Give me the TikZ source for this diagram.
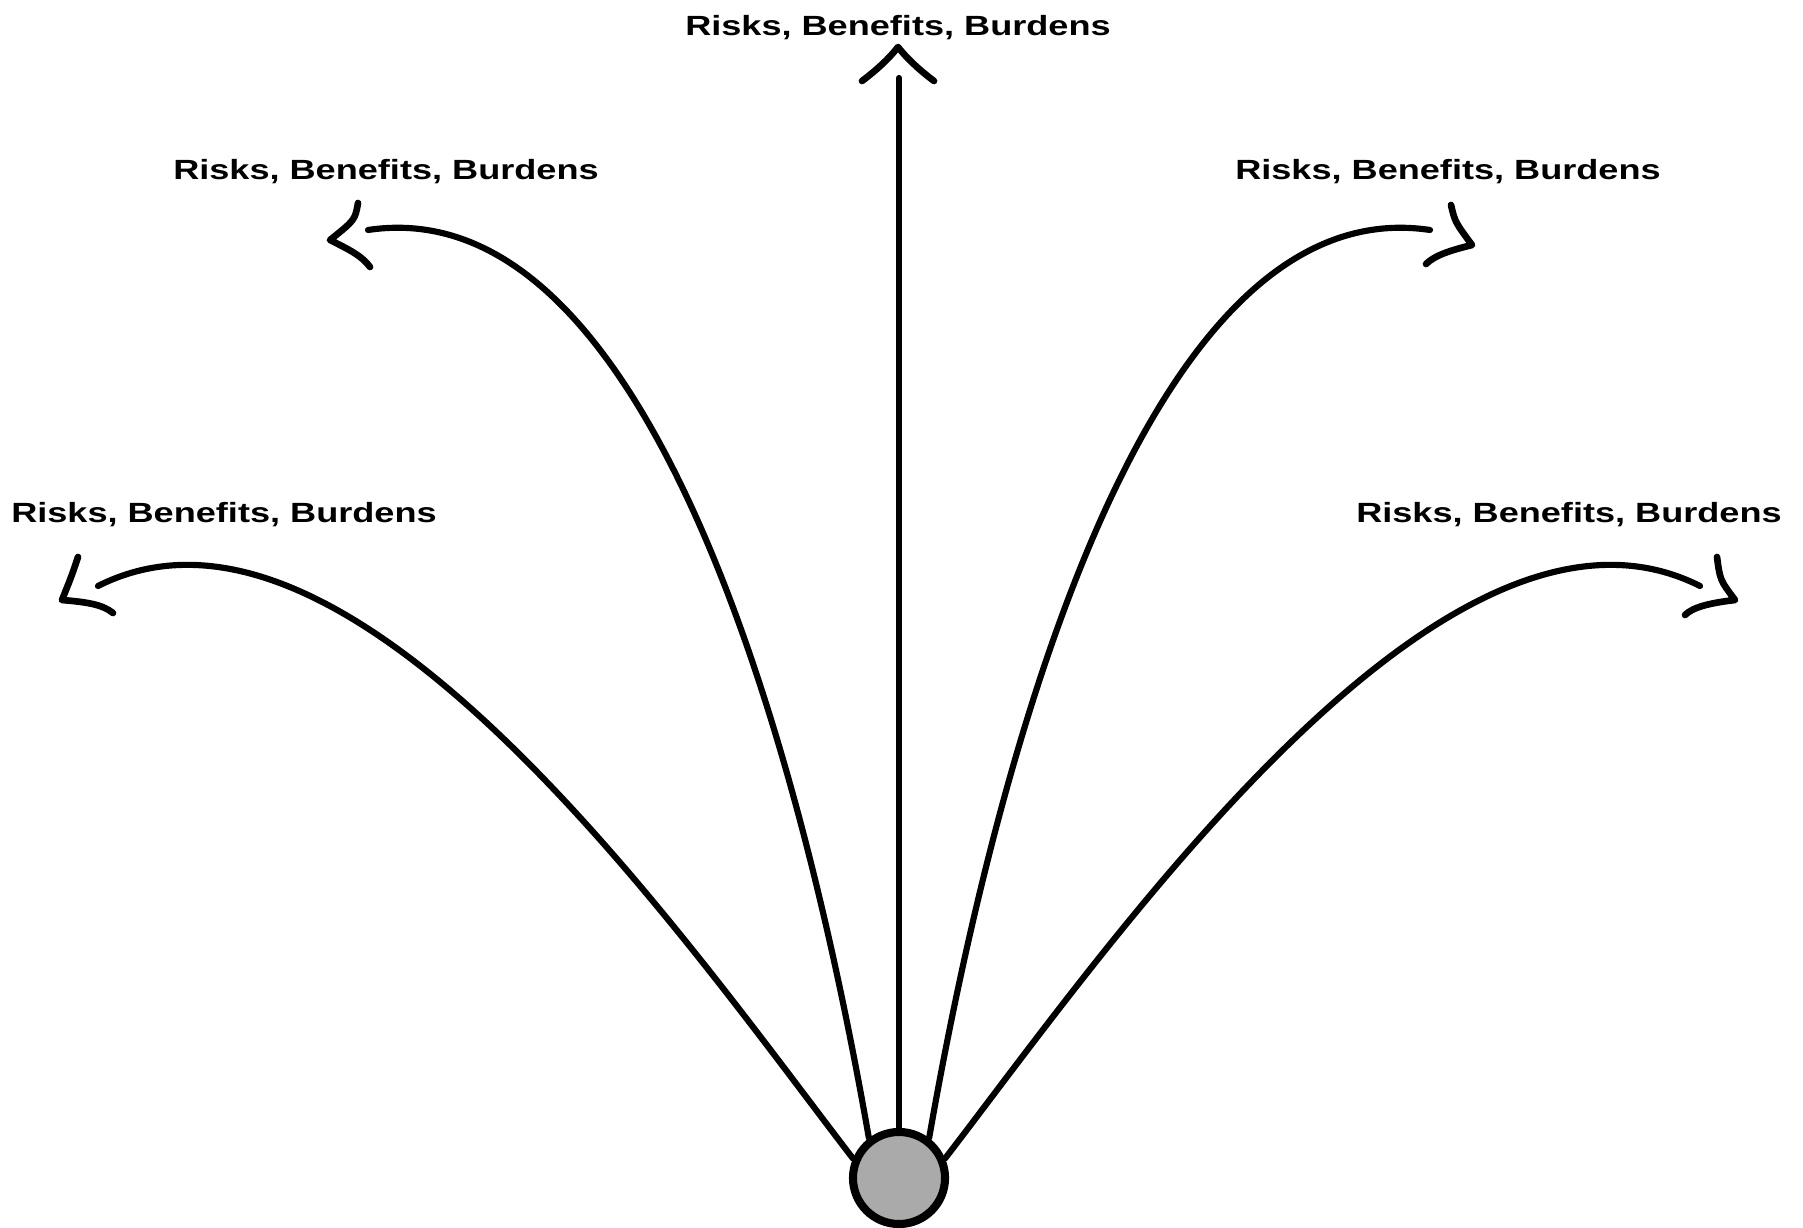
\documentclass[tikz,border=0pt]{standalone}
\usepackage{fontspec}
\setmainfont{Liberation Sans}
\usepackage{graphicx}
\definecolor{ballgray}{RGB}{170,170,170}
\tikzset{
  curve/.style={line width=1.75pt, line cap=round, black},
  chev/.style={line width=1.9pt, line cap=round, line join=round, black},
  lbl/.style={inner sep=0pt, anchor=base, font=\fontsize{7.9pt}{9pt}\selectfont\bfseries},
  ball/.style={circle, draw, line width=2.3pt, fill=ballgray, minimum size=0.92cm, inner sep=0pt},
}
\newcommand{\rbb}{\scalebox{1.3}[1]{Risks, Benefits, Burdens}}
\begin{document}
\begin{tikzpicture}[x=0.01cm, y=-0.01cm]
\useasboundingbox[fill=white] (0,0) rectangle (1803,1228);
% centre ball
\node[ball] (c) at (899,1178) {};
% labels
\node[lbl] (t0) at (898,36) {\rbb};
\node[lbl] (t1) at (386,180) {\rbb};
\node[lbl] (t2) at (1448,180) {\rbb};
\node[lbl] (t3) at (224,523) {\rbb};
\node[lbl] (t4) at (1569,523) {\rbb};
% curve ends
\coordinate (e0) at (899,78);
\coordinate (e1) at (368,230);
\coordinate (e2) at (1430,230);
\coordinate (e3) at (98,586);
\coordinate (e4) at (1700,586);
% curves
\draw[curve] (c.90) -- (e0);
\draw[curve] (c.127) .. controls (800,744) and (648,188) .. (e1);
\draw[curve] (c.53) .. controls (998,744) and (1150,188) .. (e2);
\draw[curve] (c.157) .. controls (688,944) and (352,458) .. (e3);
\draw[curve] (c.23) .. controls (1110,944) and (1446,458) .. (e4);
% hand-drawn open arrowheads
\draw[chev] (862,81) .. controls (874,72) and (888,60) .. (898,47) .. controls (908,60) and (922,72) .. (934,81);
\draw[chev] (358,203) .. controls (355,220) .. (330,240) .. controls (350,250) and (362,256) .. (370,267);
\draw[chev] (1451,205) .. controls (1455,222) .. (1472,245) .. controls (1452,250) and (1435,255) .. (1426,264);
\draw[chev] (78,557) .. controls (72,575) .. (62,600) .. controls (85,602) and (102,604) .. (113,613);
\draw[chev] (1717,557) .. controls (1720,580) .. (1735,600) .. controls (1710,603) and (1693,607) .. (1685,615);
\end{tikzpicture}
\end{document}
